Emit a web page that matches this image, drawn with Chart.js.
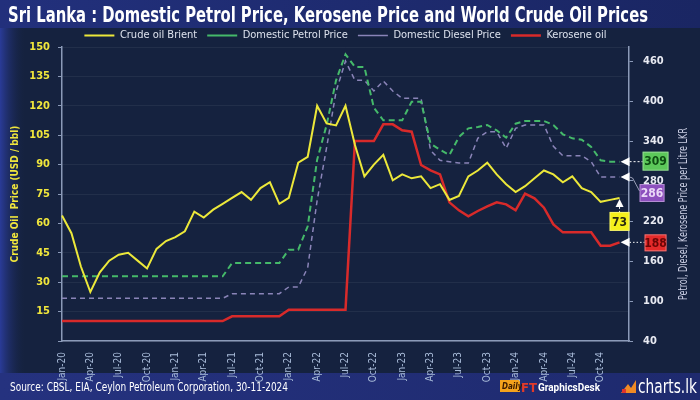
<!DOCTYPE html>
<html>
<head>
<meta charset="utf-8">
<script src="https://cdn.jsdelivr.net/npm/chart.js@4.4.1/dist/chart.umd.min.js"></script>
<style>
  html, body { margin: 0; padding: 0; background: #15223f; }
  #wrap { width: 700px; height: 400px; position: relative; }
</style>
</head>
<body>
<div id="wrap"><canvas id="chart" width="700" height="400"></canvas></div>
<script>
// month labels, Jan-20 .. Jan-25 (last one only pads the axis)
const monthLabels = [
  'Jan-20','Feb-20','Mar-20','Apr-20','May-20','Jun-20','Jul-20','Aug-20','Sep-20','Oct-20','Nov-20','Dec-20',
  'Jan-21','Feb-21','Mar-21','Apr-21','May-21','Jun-21','Jul-21','Aug-21','Sep-21','Oct-21','Nov-21','Dec-21',
  'Jan-22','Feb-22','Mar-22','Apr-22','May-22','Jun-22','Jul-22','Aug-22','Sep-22','Oct-22','Nov-22','Dec-22',
  'Jan-23','Feb-23','Mar-23','Apr-23','May-23','Jun-23','Jul-23','Aug-23','Sep-23','Oct-23','Nov-23','Dec-23',
  'Jan-24','Feb-24','Mar-24','Apr-24','May-24','Jun-24','Jul-24','Aug-24','Sep-24','Oct-24','Nov-24','Dec-24',
  'Jan-25'
];

// USD / bbl
const crudeBrent = [
  64, 55, 38, 25, 35, 41, 44, 45, 41, 37, 47, 51,
  53, 56, 66, 63, 67, 70, 73, 76, 72, 78, 81, 70,
  73, 91, 94, 120, 111, 110, 120, 100, 84, 90, 95, 82,
  85, 83, 84, 78, 80, 72, 74, 84, 87, 91, 85, 80,
  76, 79, 83, 87, 85, 81, 84, 78, 76, 71, 72, 73
];

// LKR per litre
const petrolPrice = [
  137, 137, 137, 137, 137, 137, 137, 137, 137, 137, 137, 137,
  137, 137, 137, 137, 137, 137, 157, 157, 157, 157, 157, 157,
  177, 177, 212, 312, 364, 431, 470, 451, 451, 390, 371, 371,
  371, 399, 399, 336, 327, 319, 346, 359, 361, 364, 356, 345,
  366, 370, 370, 370, 364, 350, 344, 342, 331, 311, 309, 309
];

const dieselPrice = [
  104, 104, 104, 104, 104, 104, 104, 104, 104, 104, 104, 104,
  104, 104, 104, 104, 104, 104, 111, 111, 111, 111, 111, 111,
  121, 121, 150, 251, 330, 414, 460, 431, 431, 415, 430, 415,
  404, 404, 404, 326, 311, 309, 307, 307, 344, 354, 354, 329,
  359, 364, 364, 364, 332, 318, 318, 318, 309, 286, 286, 286
];

const kerosenePrice = [
  70, 70, 70, 70, 70, 70, 70, 70, 70, 70, 70, 70,
  70, 70, 70, 70, 70, 70, 77, 77, 77, 77, 77, 77,
  87, 87, 87, 87, 87, 87, 87, 340, 340, 340, 365, 365,
  356, 354, 304, 296, 290, 248, 236, 227, 235, 242, 248, 245,
  236, 261, 254, 240, 215, 203, 203, 203, 203, 183, 183, 188
];

const lkrTicks = [40, 100, 160, 220, 280, 340, 400, 460];

const titleText = 'Sri Lanka : Domestic Petrol Price, Kerosene Price and World Crude Oil Prices';
const sourceText = 'Source: CBSL, EIA, Ceylon Petroleum Corporation, 30-11-2024';
const rightAxisTitle = 'Petrol, Diesel, Kerosene Price per Litre LKR';

const NARROW = "'Liberation Sans Narrow', 'DejaVu Sans Condensed', sans-serif";
Chart.defaults.font.family = NARROW;

function fitText(ctx, text, x, y, width) {
  const w = ctx.measureText(text).width;
  ctx.save();
  ctx.translate(x, y);
  ctx.scale(Math.min(1, width / w), 1);
  ctx.fillText(text, 0, 0);
  ctx.restore();
}

const backdrop = {
  id: 'backdrop',
  beforeDraw(chart) {
    const {ctx, width, height} = chart;
    ctx.save();
    ctx.fillStyle = '#15223f';
    ctx.fillRect(0, 0, width, height);

    let g = ctx.createLinearGradient(0, 0, 26, 0);
    g.addColorStop(0, '#2a3b98');
    g.addColorStop(1, 'rgba(21,34,63,0)');
    ctx.fillStyle = g;
    ctx.fillRect(0, 28, 26, 345);

    g = ctx.createLinearGradient(0, 0, width, 0);
    g.addColorStop(0, '#22307c');
    g.addColorStop(1, '#1a2663');
    ctx.fillStyle = g;
    ctx.fillRect(0, 0, width, 28);

    g = ctx.createLinearGradient(0, 0, width, 0);
    g.addColorStop(0, '#25327f');
    g.addColorStop(1, '#1e2a6e');
    ctx.fillStyle = g;
    ctx.fillRect(0, 373, width, 27);

    // title
    ctx.fillStyle = '#ffffff';
    ctx.textBaseline = 'alphabetic';
    ctx.font = 'bold 22px ' + NARROW;
    fitText(ctx, titleText, 8, 22, 640);

    // source
    ctx.font = '12px ' + NARROW;
    fitText(ctx, sourceText, 10, 391, 278);

    // Daily FT GraphicsDesk
    ctx.fillStyle = '#f4a21c';
    ctx.fillRect(500, 380, 20, 12);
    ctx.fillStyle = '#3a1a00';
    ctx.font = 'bold italic 8px ' + NARROW;
    ctx.fillText('Daily', 502, 389);
    ctx.fillStyle = '#e23a2a';
    ctx.font = 'bold 13px ' + NARROW;
    ctx.fillText('FT', 521, 392);
    ctx.fillStyle = '#ffffff';
    ctx.font = 'bold 11px Roboto, sans-serif';
    fitText(ctx, 'GraphicsDesk', 538, 391, 62);

    // charts.lk
    ctx.fillStyle = '#f08a24';
    ctx.beginPath();
    ctx.moveTo(621, 393); ctx.lineTo(628, 384); ctx.lineTo(631, 388); ctx.lineTo(636, 380); ctx.lineTo(636, 393);
    ctx.closePath();
    ctx.fill();
    ctx.fillStyle = '#e0342c';
    ctx.fillRect(622, 389, 4, 4);
    ctx.fillStyle = '#ffffff';
    ctx.font = '20px ' + NARROW;
    fitText(ctx, 'charts.lk', 638, 393, 59);

    // right axis title (reads bottom to top)
    ctx.fillStyle = '#c9cde2';
    ctx.font = '12px ' + NARROW;
    ctx.save();
    ctx.translate(687, 214);
    ctx.rotate(-Math.PI / 2);
    ctx.textAlign = 'left';
    const w = ctx.measureText(rightAxisTitle).width;
    ctx.scale(Math.min(1, 172 / w), 1);
    ctx.fillText(rightAxisTitle, -w / 2, 0);
    ctx.restore();
    ctx.restore();
  }
};

const endTags = {
  id: 'endTags',
  afterDatasetsDraw(chart) {
    const {ctx} = chart;
    const lastPoint = i => {
      const d = chart.data.datasets[i].data;
      return {pt: chart.getDatasetMeta(i).data[d.length - 1], value: d[d.length - 1]};
    };
    const arrowLeft = (x, y) => {
      ctx.fillStyle = '#ffffff';
      ctx.beginPath();
      ctx.moveTo(x + 1, y); ctx.lineTo(x + 10, y - 4.5); ctx.lineTo(x + 10, y + 4.5);
      ctx.closePath();
      ctx.fill();
    };
    const tag = (x, y, w, h, fill, color, text) => {
      ctx.fillStyle = fill;
      ctx.fillRect(x, y, w, h);
      ctx.strokeStyle = 'rgba(255,255,255,0.35)';
      ctx.lineWidth = 1;
      ctx.strokeRect(x + 0.5, y + 0.5, w - 1, h - 1);
      ctx.fillStyle = color;
      ctx.font = 'bold 12px ' + NARROW;
      ctx.textAlign = 'center';
      ctx.textBaseline = 'middle';
      ctx.fillText(String(text), x + w / 2, y + h / 2 + 1);
    };
    ctx.save();

    // petrol
    let {pt, value} = lastPoint(1);
    arrowLeft(pt.x, pt.y);
    ctx.strokeStyle = '#ffffff'; ctx.lineWidth = 1; ctx.setLineDash([2, 2]);
    ctx.beginPath(); ctx.moveTo(pt.x + 10, pt.y); ctx.lineTo(pt.x + 23, pt.y); ctx.stroke();
    ctx.setLineDash([]);
    tag(pt.x + 23, pt.y - 10, 26, 19, '#5cc85a', '#0d4d12', value);

    // diesel
    ({pt, value} = lastPoint(2));
    arrowLeft(pt.x, pt.y);
    ctx.strokeStyle = '#9aa0b8'; ctx.lineWidth = 1;
    ctx.beginPath(); ctx.moveTo(pt.x + 10, pt.y); ctx.lineTo(pt.x + 13, pt.y + 1); ctx.lineTo(pt.x + 20, pt.y + 14); ctx.stroke();
    tag(pt.x + 20, pt.y + 7, 25, 18, '#8d50be', '#ead8f7', value);

    // crude oil
    ({pt, value} = lastPoint(0));
    ctx.fillStyle = '#ffffff';
    ctx.beginPath();
    ctx.moveTo(pt.x, pt.y + 1); ctx.lineTo(pt.x - 4, pt.y + 9); ctx.lineTo(pt.x + 4, pt.y + 9);
    ctx.closePath(); ctx.fill();
    ctx.strokeStyle = '#ffffff'; ctx.setLineDash([2, 2]);
    ctx.beginPath(); ctx.moveTo(pt.x, pt.y + 9); ctx.lineTo(pt.x, pt.y + 14); ctx.stroke();
    ctx.setLineDash([]);
    tag(pt.x - 10, pt.y + 14, 20, 19, '#f5f11c', '#2b2b10', value);

    // kerosene
    ({pt, value} = lastPoint(3));
    arrowLeft(pt.x, pt.y);
    ctx.strokeStyle = '#ffffff'; ctx.setLineDash([1.5, 2]);
    ctx.beginPath(); ctx.moveTo(pt.x + 10, pt.y); ctx.lineTo(pt.x + 25, pt.y); ctx.stroke();
    ctx.setLineDash([]);
    tag(pt.x + 25, pt.y - 8, 22, 17, '#e42a2a', '#6a0505', value);

    ctx.restore();
  }
};

const axisGray = '#8b9ab8';

new Chart(document.getElementById('chart'), {
  type: 'line',
  data: {
    labels: monthLabels,
    datasets: [
      {label: 'Crude oil Brient', data: crudeBrent, yAxisID: 'yUsd',
       borderColor: '#ece83a', borderWidth: 2, pointRadius: 0},
      {label: 'Domestic Petrol Price', data: petrolPrice, yAxisID: 'yLkr',
       borderColor: '#45b96a', borderWidth: 2, borderDash: [6, 4], pointRadius: 0},
      {label: 'Domestic Diesel Price', data: dieselPrice, yAxisID: 'yLkr',
       borderColor: '#8a84b8', borderWidth: 1.5, borderDash: [5, 4], pointRadius: 0},
      {label: 'Kerosene oil', data: kerosenePrice, yAxisID: 'yLkr',
       borderColor: '#d82a2a', borderWidth: 2.5, pointRadius: 0}
    ]
  },
  options: {
    responsive: false,
    animation: false,
    layout: {padding: {top: 20}},
    plugins: {
      legend: {
        fullSize: false,
        align: 'center',
        maxHeight: 27,
        labels: {
          usePointStyle: true,
          pointStyle: 'line',
          pointStyleWidth: 30,
          padding: 10,
          color: '#dde2ee',
          font: {size: 11}
        }
      },
      tooltip: {enabled: false}
    },
    scales: {
      x: {
        offset: false,
        grid: {display: false},
        border: {color: axisGray, width: 1.5},
        ticks: {
          autoSkip: false,
          maxRotation: 90,
          minRotation: 90,
          color: '#a9bcd9',
          font: {size: 10},
          padding: 3,
          callback: function(v, i) {
            return (i % 3 === 0 && i < crudeBrent.length) ? this.getLabelForValue(v) : '';
          }
        },
        afterFit: s => { s.height = 59; }
      },
      yUsd: {
        position: 'left',
        min: 0,
        max: 150,
        ticks: {
          stepSize: 15,
          color: '#f0e63c',
          font: {size: 11, weight: 'bold'},
          padding: 8,
          callback: v => (v === 0 ? '' : v)
        },
        grid: {color: 'rgba(255,255,255,0.06)', tickColor: axisGray, tickLength: 4},
        border: {color: axisGray, width: 1.5},
        title: {
          display: true,
          text: 'Crude Oil  Price (USD / bbl)',
          color: '#f0e63c',
          font: {size: 10, weight: 'bold'},
          padding: {top: 9}
        },
        afterFit: s => { s.width = 62; }
      },
      yLkr: {
        position: 'right',
        min: 40,
        max: 481,
        afterBuildTicks: s => { s.ticks = lkrTicks.map(v => ({value: v})); },
        ticks: {color: '#e8eaf2', font: {size: 11, weight: 'bold'}, padding: 10},
        grid: {drawOnChartArea: false, tickColor: axisGray, tickLength: 4},
        border: {color: axisGray, width: 1.5},
        afterFit: s => { s.width = 71; }
      }
    }
  },
  plugins: [backdrop, endTags]
});
</script>
</body>
</html>
